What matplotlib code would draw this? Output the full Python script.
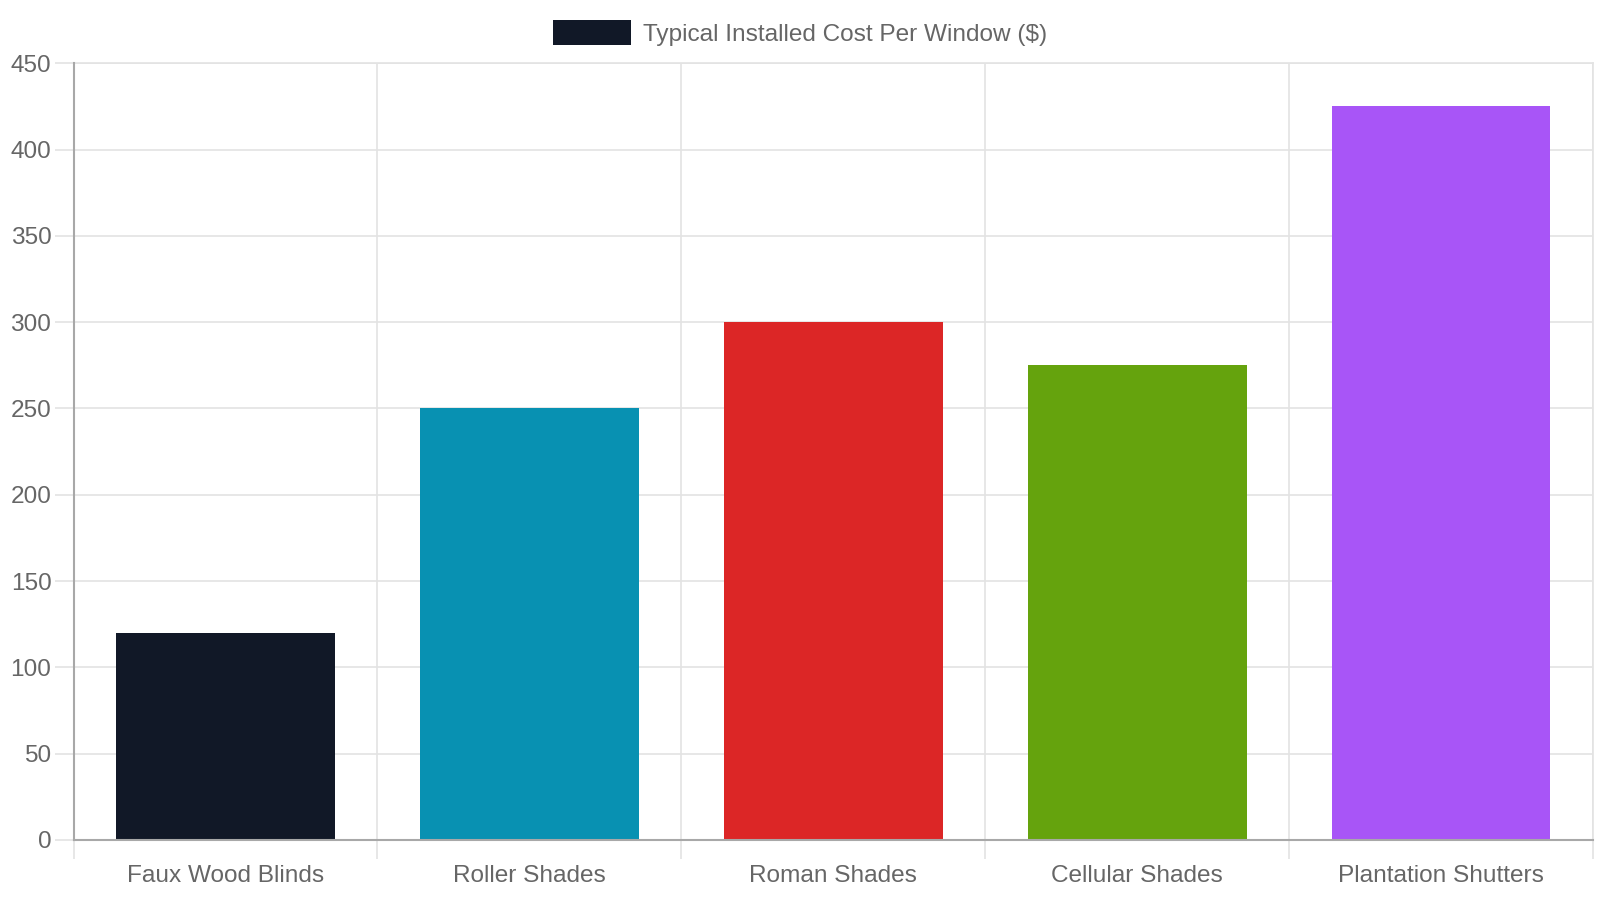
import matplotlib.pyplot as plt
from matplotlib.patches import Patch

# data
categories = ["Faux Wood Blinds", "Roller Shades", "Roman Shades",
              "Cellular Shades", "Plantation Shutters"]
costs = [120, 250, 300, 275, 425]
colors = ["#111827", "#0891b2", "#dc2626", "#65a30d", "#a855f7"]
series_label = "Typical Installed Cost Per Window ($)"
y_ticks = [0, 50, 100, 150, 200, 250, 300, 350, 400, 450]

plt.rcParams["font.family"] = ["Liberation Sans", "DejaVu Sans"]

fig = plt.figure(figsize=(16, 9), dpi=100)
ax = fig.add_axes([0.046, 0.0667, 0.9496, 0.863])

x = range(len(categories))
ax.bar(x, costs, width=0.72, color=colors, zorder=3)

ax.set_xlim(-0.5, len(categories) - 0.5)
ax.set_ylim(0, 450)
ax.set_yticks(y_ticks)

grid_c = "#e3e3e3"
axis_c = "#a8a8a8"
text_c = "#666666"
fs = 17.6

# vertical grid at category boundaries
ax.set_xticks(x)
ax.set_xticklabels(categories)
ax.set_xticks([i - 0.5 for i in range(len(categories) + 1)], minor=True)
ax.tick_params(axis="x", which="major", length=0, pad=18, labelsize=fs,
               labelcolor=text_c)
ax.tick_params(axis="x", which="minor", length=13.5, width=1.2, color=grid_c)
ax.tick_params(axis="y", length=14, width=1.2, color=grid_c, pad=2,
               labelsize=fs, labelcolor=text_c)
ax.grid(True, axis="x", which="minor", color=grid_c, lw=1.2, zorder=0)
ax.grid(True, axis="y", which="major", color=grid_c, lw=1.2, zorder=0)

for side in ["top", "right"]:
    ax.spines[side].set_color(grid_c)
    ax.spines[side].set_linewidth(1.2)
for side in ["left", "bottom"]:
    ax.spines[side].set_color(axis_c)
    ax.spines[side].set_linewidth(1.5)
    ax.spines[side].set_zorder(4)

handle = Patch(facecolor=colors[0], edgecolor="none")
leg = fig.legend([handle], [series_label], loc="center",
                 bbox_to_anchor=(0.5, 0.9637), frameon=False,
                 fontsize=fs, handlelength=3.2, handleheight=1.25,
                 handletextpad=0.5, borderpad=0)
for t in leg.get_texts():
    t.set_color(text_c)

fig.savefig("out.png", dpi=100, facecolor="white")
